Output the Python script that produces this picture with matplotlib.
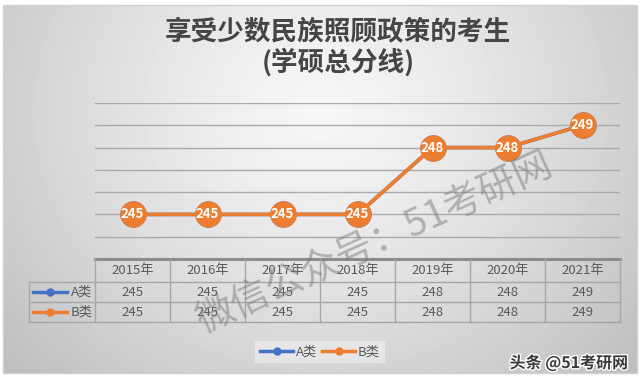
import numpy as np
import matplotlib
matplotlib.use("Agg")
import matplotlib.pyplot as plt
from matplotlib.lines import Line2D
from matplotlib.patches import Rectangle
import matplotlib.patheffects as pe

plt.rcParams['font.family'] = ['Noto Sans CJK SC', 'DejaVu Sans']

# ---------------- data ----------------
years = ['2015年', '2016年', '2017年', '2018年', '2019年', '2020年', '2021年']
series_names = ['A类', 'B类']
a_values = [245, 245, 245, 245, 248, 248, 249]
b_values = [245, 245, 245, 245, 248, 248, 249]
title = '享受少数民族照顾政策的考生\n(学硕总分线)'
watermark = '微信公众号：51考研网'
credit = '头条 @51考研网'

BLUE = '#4472c4'
ORANGE = '#ed7d31'
TXT = '#595959'

W, H = 640, 378
fig = plt.figure(figsize=(W / 100, H / 100), dpi=100, facecolor='white')

def fx(px):
    return px / W

def fy(py):
    return 1 - py / H

# ---------------- background gradient ----------------
bg = fig.add_axes([0, 0, 1, 1])
bg.set_xlim(0, W)
bg.set_ylim(H, 0)
bg.axis('off')
yy, xx = np.mgrid[5:373, 3:637]
d = np.sqrt(((xx - 320) / 330.0) ** 2 + ((yy - 110) / 300.0) ** 2)
val = np.clip(0.965 - 0.16 * d ** 1.3, 0, 1)
bg.imshow(val, cmap='gray', vmin=0, vmax=1, extent=(3, 637, 373, 5),
          interpolation='bilinear', zorder=0)
bg.add_patch(Rectangle((3, 5), 634, 368, fill=False, edgecolor='#d0d0d0', lw=1, zorder=1))

# ---------------- main plot ----------------
left, right, top, bottom = 95, 620, 103, 259
ax = fig.add_axes([fx(left), fy(bottom), fx(right - left), (bottom - top) / H])
ax.set_facecolor('none')
x = np.arange(len(years))
ax.set_xlim(-0.5, len(years) - 0.5)
ax.set_ylim(243, 250)
ax.set_yticks(np.arange(244, 251))
ax.grid(axis='y', color='#aaaaaa', lw=1)
ax.set_axisbelow(True)
ax.tick_params(left=False, bottom=False, labelleft=False, labelbottom=False)
for s in ['top', 'left', 'right']:
    ax.spines[s].set_visible(False)
ax.spines['bottom'].set_color('#8c8c8c')
ax.spines['bottom'].set_linewidth(2.2)

ax.plot(x, a_values, color=BLUE, lw=2.6, marker='o', ms=18, zorder=3)
ax.plot(x, b_values, color=ORANGE, lw=2.6, marker='o', ms=18, zorder=4)
for xi, v in zip(x, b_values):
    ax.text(xi, v, str(v), color='white', fontsize=9.5, fontweight='bold',
            ha='center', va='center', zorder=5)

# ---------------- data table ----------------
t_top, t_h1, t_h2, t_bot = 259, 282, 302, 322
tax = fig.add_axes([fx(left), fy(t_bot), fx(right - left), (t_bot - t_top) / H])
tax.set_xlim(-0.5, len(years) - 0.5)
tax.set_ylim(t_bot, t_top)
tax.axis('off')
lab_left = -0.5 - (left - 29) / 75.0
lc = '#a6a6a6'
for k in range(len(years) + 1):
    tax.plot([k - 0.5, k - 0.5], [t_top, t_bot], color=lc, lw=1, clip_on=False)
for yl in (t_h1, t_h2, t_bot):
    tax.plot([lab_left, len(years) - 0.5], [yl, yl], color=lc, lw=1, clip_on=False)
tax.plot([lab_left, lab_left], [t_h1, t_bot], color=lc, lw=1, clip_on=False)

for xi, yr in zip(x, years):
    tax.text(xi, (t_top + t_h1) / 2, yr, ha='center', va='center', fontsize=9.5, color=TXT)
rows = [(a_values, BLUE, series_names[0], (t_h1 + t_h2) / 2),
        (b_values, ORANGE, series_names[1], (t_h2 + t_bot) / 2)]
for vals, col, name, yc in rows:
    for xi, v in zip(x, vals):
        tax.text(xi, yc, str(v), ha='center', va='center', fontsize=9.5, color=TXT)
    k0 = -0.5 - (left - 33) / 75.0
    k1 = -0.5 - (left - 67) / 75.0
    tax.plot([k0, k1], [yc, yc], color=col, lw=2.5, clip_on=False)
    tax.plot([(k0 + k1) / 2], [yc], 'o', color=col, ms=5, clip_on=False)
    tax.text(-0.5 - 2.5 / 75, yc, name, ha='right', va='center', fontsize=9.5, color=TXT)

# ---------------- legend ----------------
handles = [Line2D([], [], color=BLUE, lw=2.5, marker='o', ms=5),
           Line2D([], [], color=ORANGE, lw=2.5, marker='o', ms=5)]
leg = fig.legend(handles, series_names, loc='center', bbox_to_anchor=(fx(320), fy(352)),
                 ncol=2, frameon=True, fontsize=9.5, handlelength=2.5, handletextpad=0.2,
                 columnspacing=0.4, borderpad=0.35, fancybox=False)
leg.get_frame().set_facecolor('#eaeaea')
leg.get_frame().set_edgecolor('none')
for t in leg.get_texts():
    t.set_color(TXT)

# ---------------- title ----------------
fig.text(fx(338), fy(47.5), title, ha='center', va='center', fontsize=19.2,
         fontweight='bold', color='#454545', linespacing=1.1)

# ---------------- watermark & credit ----------------
fig.text(fx(375), fy(243), watermark, ha='center', va='center', rotation=24.5,
         rotation_mode='anchor', fontsize=27.5, color='#7a7a7a', alpha=0.5)
fig.text(fx(628), fy(363), credit, ha='right', va='center', fontsize=11.5,
         fontweight='bold', color='#3a3a3a',
         path_effects=[pe.withStroke(linewidth=2, foreground='white')])

fig.savefig('out.png', dpi=100, facecolor='white')
